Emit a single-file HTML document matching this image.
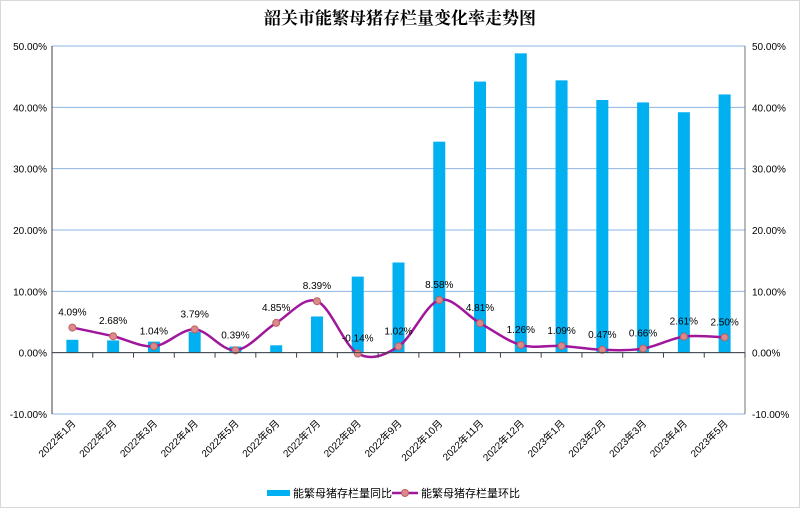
<!DOCTYPE html>
<html><head><meta charset="utf-8"><style>
body{margin:0;background:#fff}
svg text{font-family:"Liberation Sans","Noto Sans CJK SC",sans-serif}
</style></head><body>
<svg id="c" width="800" height="508" xmlns="http://www.w3.org/2000/svg">
<rect x="0.5" y="0.5" width="799" height="507" fill="#fff" stroke="#d9d9d9"/>
<text x="400" y="24" text-anchor="middle" font-size="17" font-weight="bold" style="font-family:'Liberation Serif','Noto Serif CJK SC',serif">韶关市能繁母猪存栏量变化率走势图</text>
<g id="grid"></g><g id="bars"></g><g id="line"></g><g id="axes"></g>
<g>
<rect x="267" y="490" width="23" height="6" fill="#00b0f0"/>
<text x="293" y="497" font-size="11">能繁母猪存栏量同比</text>
<line x1="392" y1="493" x2="418" y2="493" stroke="#a0179c" stroke-width="2.5"/>
<circle cx="405" cy="493" r="3.5" fill="#d98a8a" stroke="#c06060"/>
<text x="421" y="497" font-size="11">能繁母猪存栏量环比</text>
</g>
</svg>
<script>
const categories=["2022年1月","2022年2月","2022年3月","2022年4月","2022年5月","2022年6月","2022年7月","2022年8月","2022年9月","2022年10月","2022年11月","2022年12月","2023年1月","2023年2月","2023年3月","2023年4月","2023年5月"];
const yoyValues=[2.1,2.0,1.8,3.4,1.0,1.2,5.9,12.4,14.7,34.4,44.2,48.8,44.4,41.2,40.8,39.2,42.1];
const momValues=[4.09,2.68,1.04,3.79,0.39,4.85,8.39,-0.14,1.02,8.58,4.81,1.26,1.09,0.47,0.66,2.61,2.50];
const momLabels=["4.09%","2.68%","1.04%","3.79%","0.39%","4.85%","8.39%","-0.14%","1.02%","8.58%","4.81%","1.26%","1.09%","0.47%","0.66%","2.61%","2.50%"];
const tickValues=[-10,0,10,20,30,40,50];
const tickLabels=["-10.00%","0.00%","10.00%","20.00%","30.00%","40.00%","50.00%"];
const NS="http://www.w3.org/2000/svg";
const L=52,R=745,T=46,B=414,yMin=-10,yMax=50;
const cw=(R-L)/categories.length;
function xC(i){return L+cw*(i+0.5);}
function yS(v){return B-(v-yMin)/(yMax-yMin)*(B-T);}
function mk(tag,attrs,parent){const e=document.createElementNS(NS,tag);for(const k in attrs)e.setAttribute(k,attrs[k]);document.getElementById(parent).appendChild(e);return e;}
tickValues.forEach((v,i)=>{
  const g=mk('line',{x1:L,x2:R,y1:yS(v),y2:yS(v),stroke:'#8eb4e3','stroke-width':1},'grid');
  
  
  const t1=mk('text',{x:L-5,y:yS(v)+4,'text-anchor':'end','font-size':10},'axes');t1.textContent=tickLabels[i];
  
  
  const t2=mk('text',{x:R+7,y:yS(v)+4,'font-size':10},'axes');t2.textContent=tickLabels[i];
  
  
});
let a=mk('line',{x1:L,x2:L,y1:T,y2:B,stroke:'#404040'},'axes');


a=mk('line',{x1:R,x2:R,y1:T,y2:B,stroke:'#6a7a6a'},'axes');


a=mk('line',{x1:L,x2:R,y1:yS(0),y2:yS(0),stroke:'#404040'},'axes');


categories.forEach((c,i)=>{
  const tk=mk('line',{x1:L+cw*(i+1),x2:L+cw*(i+1),y1:yS(0),y2:yS(0)+5,stroke:'#404040'},'axes');
  
  
  const x=xC(i)+4,y=424;
  const t=mk('text',{x:x,y:y,'text-anchor':'end','font-size':10,transform:`rotate(-45 ${x} ${y})`},'axes');t.textContent=c;
  
  
  const v=yoyValues[i];
  const b=mk('rect',{x:xC(i)-6,y:Math.min(yS(v),yS(0)),width:12,height:Math.abs(yS(v)-yS(0)),fill:'#00b0f0'},'bars');
  
  
});
const pts=momValues.map((v,i)=>[xC(i),yS(v)]);
let d=`M${pts[0][0]},${pts[0][1]}`;
for(let i=0;i<pts.length-1;i++){
  const p0=pts[Math.max(0,i-1)],p1=pts[i],p2=pts[i+1],p3=pts[Math.min(pts.length-1,i+2)];
  const k=1/6;
  d+=` C${p1[0]+(p2[0]-p0[0])*k},${p1[1]+(p2[1]-p0[1])*k} ${p2[0]-(p3[0]-p1[0])*k},${p2[1]-(p3[1]-p1[1])*k} ${p2[0]},${p2[1]}`;
}
const ln=mk('path',{d:d,fill:'none',stroke:'#a0179c','stroke-width':2.5},'line');


pts.forEach((p,i)=>{
  const c=mk('circle',{cx:p[0],cy:p[1],r:3.5,fill:'#d98a8a',stroke:'#c06060'},'line');
  
  
  const t=mk('text',{x:p[0],y:p[1]-12,'text-anchor':'middle','font-size':10},'line');t.textContent=momLabels[i];
  
  
});
</script>
</body></html>
